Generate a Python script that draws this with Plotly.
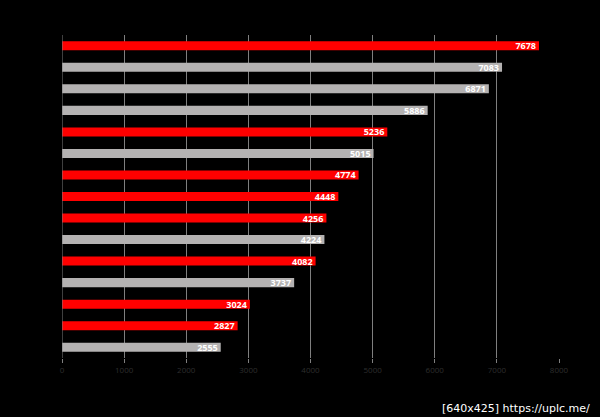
import plotly.graph_objects as go

categories = [f"Item {i}" for i in range(1, 16)]
values = [7678, 7083, 6871, 5886, 5236, 5015, 4774, 4448, 4256, 4224, 4082, 3737, 3024, 2827, 2555]
highlight = [True, False, False, False, True, False, True, True, True, False, True, False, True, True, False]
tick_vals = [0, 1000, 2000, 3000, 4000, 5000, 6000, 7000, 8000]

RED = "#FF0000"
GRAY = "#B4B2B2"
colors = [RED if h else GRAY for h in highlight]

fig = go.Figure(go.Bar(
    x=values,
    y=categories,
    orientation="h",
    marker=dict(color=colors, line=dict(width=0)),
    width=0.42,
    text=[str(v) for v in values],
    textposition="inside",
    insidetextanchor="end",
    constraintext="none",
    textfont=dict(color="white", size=9, family="Open Sans", weight="bold"),
))

fig.update_layout(
    width=600, height=417,
    paper_bgcolor="black", plot_bgcolor="black",
    margin=dict(l=62, r=41, t=35, b=59),
    showlegend=False,
    font=dict(family="Open Sans"),
    xaxis=dict(
        range=[0, 8000],
        tickvals=tick_vals,
        showgrid=True, gridcolor="#7F7F7F", gridwidth=1,
        zeroline=False,
        showline=False,
        ticks="outside", ticklen=4, tickcolor="#7F7F7F",
        tickfont=dict(color="#2E2E2E", size=8),
        fixedrange=True,
    ),
    yaxis=dict(
        autorange="reversed",
        showticklabels=False,
        showgrid=False,
        zeroline=False,
        showline=False,
        ticks="",
    ),
    annotations=[dict(
        text="[640x425] https://uplc.me/",
        xref="paper", yref="paper",
        x=1.0, y=0, xanchor="right", yanchor="middle",
        yshift=-50, xshift=33,
        showarrow=False,
        font=dict(color="white", size=11, family="DejaVu Sans"),
    )],
)
fig.add_shape(type="line", xref="x", yref="paper", x0=0, x1=0, y0=0, y1=1,
              line=dict(color="#7F7F7F", width=1))

fig.write_html("out.html",
               config={"displayModeBar": False},
               post_script="document.body.style.margin='0';document.body.style.background='black';")
